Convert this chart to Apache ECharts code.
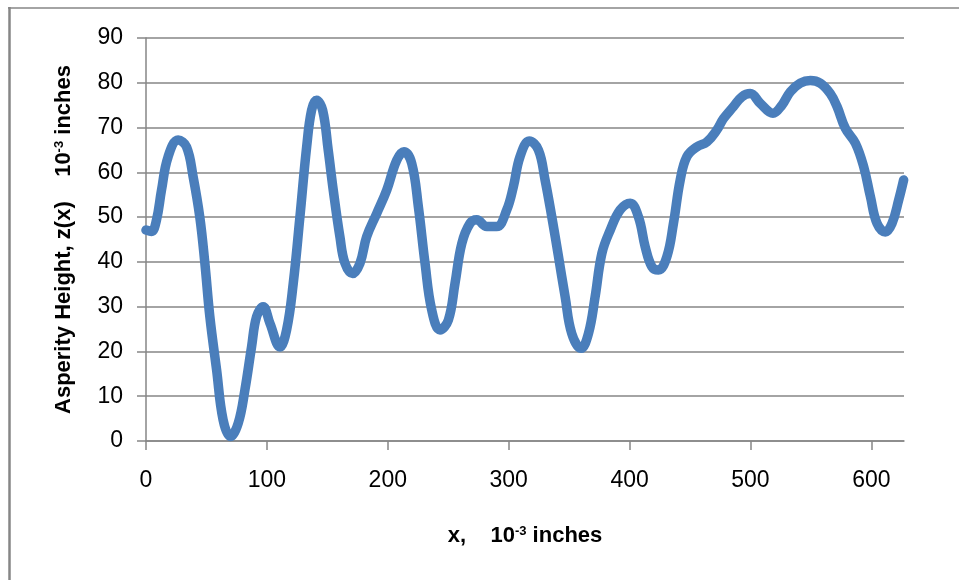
<!DOCTYPE html>
<html>
<head>
<meta charset="utf-8">
<script src="https://cdn.jsdelivr.net/npm/echarts@6/dist/echarts.min.js"></script>
<style>
html,body{margin:0;padding:0;background:#fff;}
#chart{width:959px;height:580px;}
</style>
</head>
<body>
<div id="chart"></div>
<script>
var xValues = [0, 4.5, 8.7, 12.8, 18.3, 26.6, 33.5, 39, 44.5, 48.7, 52.8, 58.4, 63.8, 70, 76.3, 81.8, 87.3, 91.5, 96.9, 102.5, 110.8, 116.3, 121.8, 127.3, 132.9, 137, 141.1, 146.1, 150.7, 154.9, 160.4, 164.6, 170.9, 177, 182.5, 190.8, 199.1, 207.4, 213.4, 219.8, 225.3, 230.8, 236.3, 243.2, 250.1, 255.6, 261.2, 268, 273.6, 281.9, 290.1, 298.4, 303.9, 309.4, 317, 324.6, 330.1, 335.7, 341.2, 346.7, 352.2, 359.9, 366, 371.5, 377.1, 384, 392.2, 400.5, 407.4, 412.9, 418.5, 423.9, 430.9, 436.3, 441.9, 447.4, 455.7, 464, 472.3, 477.7, 486, 493, 499.8, 508.1, 518.6, 526, 533, 541.2, 549.5, 557.8, 566, 571.6, 578.5, 586.8, 593.6, 599.2, 604.7, 611.6, 617.1, 622.6, 626.7];
var zValues = [47.1, 46.8, 49.4, 56, 63.5, 67.2, 65.7, 59, 50, 39.7, 27.8, 15.9, 4.7, 1, 4, 11.4, 21, 27.8, 30, 26.3, 21, 24.8, 35.2, 50, 65.7, 73.9, 76.1, 73.9, 65, 56, 45.6, 39.7, 37.4, 39.7, 45.6, 50.8, 56, 62.7, 64.6, 62, 52.3, 39.7, 29.3, 24.8, 27, 35.2, 44.1, 48.6, 49.4, 47.9, 47.9, 51.6, 56.8, 63.5, 67, 65, 58.3, 50, 41.2, 32.2, 24, 20.7, 24, 32.2, 41.9, 47.1, 51.6, 53.1, 50, 43.4, 38.9, 38.2, 41.2, 48.6, 58.3, 63.5, 65.7, 66.8, 69.5, 72, 74.7, 76.9, 77.6, 75.4, 73.2, 75, 78, 79.9, 80.5, 79.9, 77.6, 74.7, 69.8, 66.5, 61.3, 54.6, 48.6, 46.7, 48.6, 53.8, 58.3];
var xTicks = [0, 100, 200, 300, 400, 500, 600];
var yTicks = [0, 10, 20, 30, 40, 50, 60, 70, 80, 90];

var seriesData = xValues.map(function (x, i) { return [x, zValues[i]]; });
var gray = '#868686';
var font = 'Liberation Sans';

var chart = echarts.init(document.getElementById('chart'), null, {renderer: 'canvas'});
chart.setOption({
  animation: false,
  backgroundColor: '#fff',
  grid: {left: 146, right: 55, top: 38, bottom: 139, containLabel: false},
  xAxis: {
    type: 'value', min: 0, max: 627,
    name: '{b|x,    10}{s|-3}{b| inches}',
    nameLocation: 'middle', nameGap: 84,
    nameTextStyle: {
      rich: {
        b: {fontFamily: font, fontWeight: 'bold', fontSize: 22, color: '#000'},
        s: {fontFamily: font, fontWeight: 'bold', fontSize: 13, color: '#000', verticalAlign: 'top', padding: [0, 0, 9, 0]}
      }
    },
    axisLine: {show: true, lineStyle: {color: gray, width: 1.5}},
    axisTick: {show: true, inside: false, length: 9, lineStyle: {color: gray, width: 1.5}, customValues: xTicks},
    axisLabel: {customValues: xTicks, margin: 28, fontFamily: font, fontSize: 23, color: '#000'},
    splitLine: {show: false}
  },
  yAxis: {
    type: 'value', min: 0, max: 90, interval: 10,
    name: '{b|Asperity Height, z(x)    10}{s|-3}{b| inches}',
    nameLocation: 'middle', nameGap: 71, nameRotate: 90,
    nameTextStyle: {
      rich: {
        b: {fontFamily: font, fontWeight: 'bold', fontSize: 22, color: '#000'},
        s: {fontFamily: font, fontWeight: 'bold', fontSize: 13, color: '#000', verticalAlign: 'top', padding: [0, 0, 9, 0]}
      }
    },
    axisLine: {show: true, lineStyle: {color: gray, width: 1.5}},
    axisTick: {show: true, inside: false, length: 9, lineStyle: {color: gray, width: 1.5}, customValues: yTicks},
    axisLabel: {customValues: yTicks, margin: 23, fontFamily: font, fontSize: 23, color: '#000'},
    splitLine: {show: true, lineStyle: {color: gray, width: 1.5}}
  },
  series: [{
    type: 'line',
    data: seriesData,
    smooth: 0.4,
    showSymbol: false,
    lineStyle: {color: '#4a7ebb', width: 9.5, cap: 'round', join: 'round'},
    itemStyle: {color: '#4a7ebb'}
  }],
  graphic: [
    {type: 'line', shape: {x1: 9.5, y1: 7, x2: 9.5, y2: 580}, style: {stroke: gray, lineWidth: 2.5}, silent: true},
    {type: 'line', shape: {x1: 8, y1: 8, x2: 959, y2: 8}, style: {stroke: gray, lineWidth: 1.5}, silent: true}
  ]
});
</script>
</body>
</html>
